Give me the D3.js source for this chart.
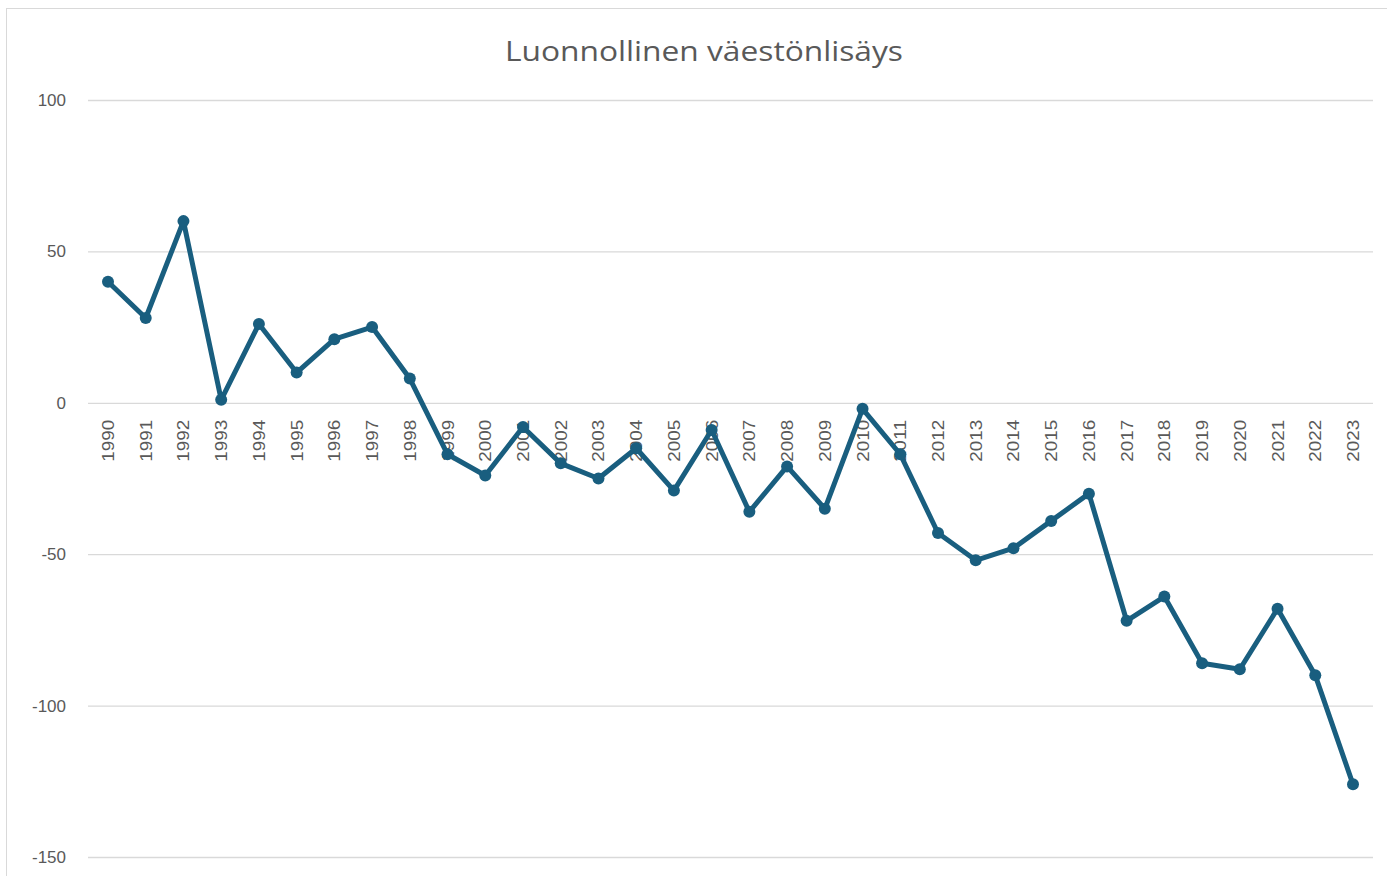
<!DOCTYPE html>
<html>
<head>
<meta charset="utf-8">
<script src="https://cdn.jsdelivr.net/npm/d3@7"></script>
<style>
  body { margin: 0; background: #fff; }
</style>
</head>
<body>
<script>
// data
const years = d3.range(1990, 2024).map(String)
const values = [40, 28, 60, 1, 26, 10, 21, 25, 8, -17, -24, -8, -20, -25, -15, -29, -9, -36, -21, -35,
  -2, -17, -43, -52, -48, -39, -30, -72, -64, -86, -88, -68, -90, -126]
const yTicks = [100, 50, 0, -50, -100, -150]
const title = 'Luonnollinen väestönlisäys'

const W = 1387, H = 876
const svg = d3.select('body').append('svg')
  .attr('width', W)
  .attr('height', H)

// chart area frame (only top/left visible in the reference)
svg.append('rect')
  .attr('x', 6.5).attr('y', 8.5)
  .attr('width', W + 10).attr('height', H + 10)
  .attr('fill', '#fff')
  .attr('stroke', '#d9d9d9')

svg.append('text')
  .attr('x', 505).attr('y', 61)
  .attr('textLength', 398)
  .attr('lengthAdjust', 'spacingAndGlyphs')
  .style('font-family', '"Open Sans", sans-serif')
  .style('font-size', '27px')
  .attr('fill', '#595959')
  .text(title)

const x = d3.scalePoint().domain(years).range([108, 1353])
const y = d3.scaleLinear().domain([-150, 100]).range([857, 100])

// gridlines + y labels
const yAxis = svg.append('g')
yAxis.selectAll('line').data(yTicks).enter().append('line')
  .attr('x1', 88).attr('x2', 1373)
  .attr('y1', d => y(d) + 0.5).attr('y2', d => y(d) + 0.5)
  .attr('stroke', '#d9d9d9').attr('stroke-width', 1.3)
yAxis.selectAll('text').data(yTicks).enter().append('text')
  .attr('x', 66).attr('y', d => y(d) + 6)
  .attr('text-anchor', 'end')
  .style('font-family', '"Liberation Sans", Arial, sans-serif')
  .style('font-size', '17px')
  .attr('fill', '#595959')
  .text(d => d)

// year labels, rotated, just under the zero line
svg.append('g').selectAll('text').data(years).enter().append('text')
  .attr('transform', d => `translate(${x(d) + 6},${y(0) + 17}) rotate(-90)`)
  .attr('text-anchor', 'end')
  .attr('textLength', 42)
  .attr('lengthAdjust', 'spacingAndGlyphs')
  .style('font-family', '"Liberation Sans", Arial, sans-serif')
  .style('font-size', '16px')
  .attr('fill', '#595959')
  .text(d => d)

const line = d3.line()
  .x((d, i) => x(years[i]))
  .y(d => y(d))

svg.append('path')
  .datum(values)
  .attr('d', line)
  .attr('fill', 'none')
  .attr('stroke', '#195e7f')
  .attr('stroke-width', 5)
  .attr('stroke-linejoin', 'round')

svg.append('g').selectAll('circle').data(values).enter().append('circle')
  .attr('cx', (d, i) => x(years[i]))
  .attr('cy', d => y(d))
  .attr('r', 6)
  .attr('fill', '#195e7f')
</script>
</body>
</html>
